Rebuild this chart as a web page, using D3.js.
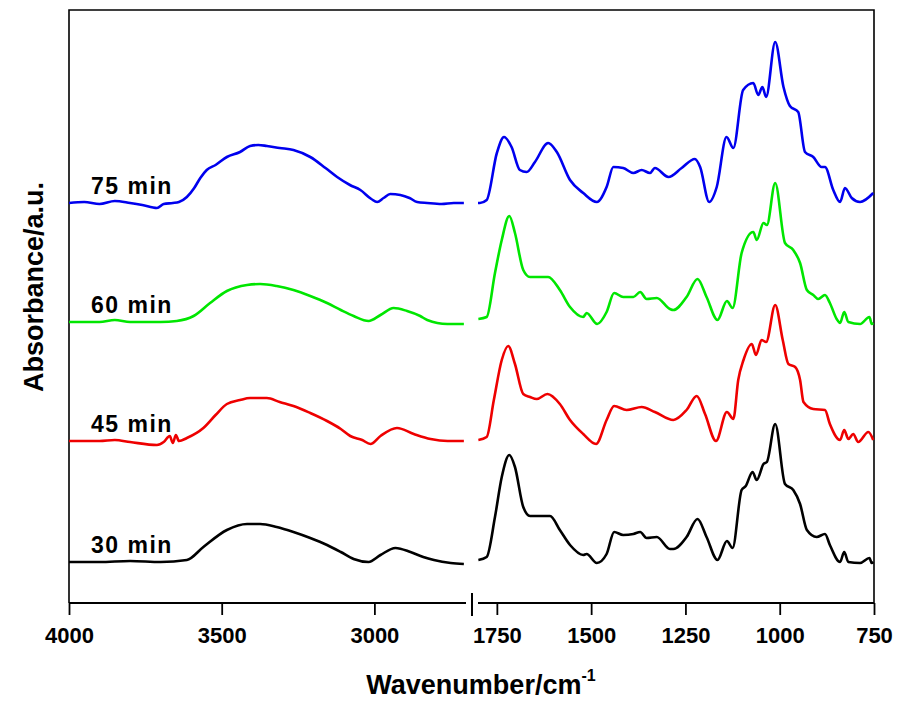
<!DOCTYPE html>
<html>
<head>
<meta charset="utf-8">
<script src="https://d3js.org/d3.v7.min.js"></script>
<style>
  body { margin: 0; background: #fff; }
  text { font-family: "Liberation Sans", Arial, sans-serif; font-weight: bold; fill: #000; }
</style>
</head>
<body>
<div id="chart-area"></div>
<script>
// FTIR spectra, broken wavenumber axis (4000-2700 | 1800-750)
var labels = ["30 min", "45 min", "60 min", "75 min"];
var colors = ["#000000", "#ee0000", "#00e600", "#0000ee"];
var offsets = [4.1, 16.2, 28.1, 40.0];

var leftMajor = [4000, 3500, 3000], leftMinor = [3750, 3250, 2750];
var rightMajor = [1750, 1500, 1250, 1000, 750], rightMinor = [1625, 1375, 1125, 875];

// [wavenumber, absorbance] pairs
var s30Left = [[4000,0],[3900,0],[3800,0.1],[3700,0],[3614,0.2],[3560,1.5],[3483,3.2],[3417,3.8],[3374,3.8],[3320,3.5],[3265,3.0],[3210,2.4],[3155,1.7],[3110,1.0],[3068,0.3],[3019,0],[2980,0.7],[2931,1.4],[2882,1.0],[2840,0.5],[2805,0.2],[2750,-0.1],[2707,-0.2]];
var s30Right = [[1799,0.2],[1777,0.5],[1755,4.5],[1737,8.5],[1717,10.7],[1702,9.5],[1680,5.5],[1662,4.6],[1609,4.6],[1583,3.2],[1556,1.7],[1521,0.7],[1512,0.8],[1485,-0.1],[1459,0.8],[1439,3.0],[1415,2.7],[1388,2.8],[1370,3.0],[1353,2.4],[1326,2.5],[1291,1.3],[1282,1.3],[1247,2.5],[1218,4.3],[1194,2.5],[1165,0.2],[1140,2.1],[1125,1.4],[1101,7.2],[1090,7.6],[1072,9.0],[1061,8.2],[1043,9.8],[1034,10.0],[1012,13.8],[986,7.8],[964,7.2],[946,5.8],[928,3.2],[902,2.5],[880,2.8],[867,1.7],[840,0.0],[829,1.0],[818,0.0],[787,-0.1],[762,0.4],[756,-0.1],[752,0.0]];

var s45Left = [[4000,0],[3900,0],[3850,0.1],[3800,-0.1],[3712,-0.4],[3690,-0.1],[3670,0.5],[3660,-0.2],[3650,0.6],[3640,0],[3614,0.3],[3560,1.3],[3520,2.6],[3483,3.7],[3440,4.1],[3407,4.3],[3352,4.3],[3310,3.9],[3265,3.5],[3210,2.8],[3155,2.0],[3110,1.2],[3079,0.5],[3040,0.1],[3013,-0.3],[2980,0.5],[2926,1.3],[2871,0.7],[2816,0.2],[2760,0],[2707,0]];
var s45Right = [[1799,0.1],[1777,0.4],[1758,4.1],[1737,8.1],[1720,9.5],[1702,7.7],[1680,4.7],[1662,4.4],[1644,4.2],[1616,4.7],[1583,3.7],[1556,2.1],[1521,0.7],[1487,-0.3],[1459,2.1],[1439,3.5],[1406,3.1],[1366,3.4],[1331,2.9],[1282,2.1],[1247,3.1],[1220,4.5],[1198,2.7],[1169,0.0],[1140,2.9],[1123,2.2],[1110,6.1],[1096,8.1],[1074,9.7],[1063,8.6],[1048,10.1],[1036,9.9],[1012,13.6],[992,10.1],[977,7.7],[959,7.4],[946,6.1],[937,3.9],[911,3.2],[880,3.1],[867,1.7],[840,0.1],[829,1.1],[818,0.2],[805,0.7],[792,-0.1],[765,0.9],[752,0.1]];

var s60Left = [[4000,0],[3900,0],[3850,0.2],[3800,0],[3700,0],[3647,0.1],[3592,0.6],[3538,1.9],[3483,3.1],[3417,3.7],[3374,3.8],[3320,3.6],[3265,3.2],[3210,2.6],[3155,1.9],[3110,1.2],[3068,0.6],[3019,0.1],[2980,0.7],[2937,1.4],[2893,1.1],[2850,0.6],[2827,0.2],[2761,-0.2],[2707,-0.2]];
var s60Right = [[1799,0.3],[1777,0.5],[1755,4.9],[1737,8.2],[1717,10.6],[1702,8.9],[1680,5.2],[1662,4.5],[1614,4.5],[1583,3.2],[1556,1.5],[1521,0.5],[1512,0.9],[1484,-0.2],[1459,1.0],[1439,2.9],[1415,2.5],[1388,2.5],[1370,3.0],[1353,2.3],[1326,2.4],[1291,1.3],[1282,1.2],[1247,2.5],[1218,4.3],[1194,2.5],[1165,0.2],[1140,2.1],[1125,1.4],[1101,6.9],[1070,9.0],[1061,8.2],[1043,9.9],[1034,9.7],[1012,13.9],[986,7.9],[964,7.2],[946,5.9],[928,3.2],[911,2.7],[898,2.3],[880,2.7],[867,1.9],[849,0.3],[840,-0.1],[829,1.0],[818,0.0],[787,-0.2],[762,0.5],[756,-0.2],[752,-0.1]];

var s75Left = [[4000,0],[3950,0.1],[3900,-0.1],[3850,0.2],[3800,0],[3760,-0.2],[3712,-0.5],[3690,-0.1],[3660,0],[3640,0.1],[3614,0.6],[3590,1.5],[3570,2.5],[3549,3.3],[3520,3.8],[3483,4.6],[3440,5.1],[3407,5.7],[3380,5.8],[3352,5.7],[3310,5.5],[3265,5.3],[3210,4.6],[3160,3.5],[3122,2.6],[3080,1.8],[3046,1.3],[3010,0.4],[2991,0.1],[2970,0.5],[2948,0.9],[2915,0.8],[2885,0.5],[2860,0.1],[2827,0],[2780,-0.1],[2740,0],[2707,0]];
var s75Right = [[1800,0],[1795,0],[1777,0.3],[1750,5.0],[1731,6.6],[1711,5.6],[1689,3.3],[1671,3.1],[1649,4.1],[1614,6.0],[1591,5.1],[1556,2.3],[1521,1.0],[1485,0.1],[1459,1.6],[1441,3.6],[1415,3.5],[1388,3.0],[1366,3.3],[1344,3.0],[1331,3.5],[1295,2.6],[1260,3.5],[1225,4.4],[1211,3.6],[1187,0.1],[1167,1.6],[1141,6.6],[1123,5.5],[1097,11.3],[1070,12.0],[1057,10.8],[1046,11.6],[1036,10.6],[1012,16.1],[990,11.6],[973,9.7],[951,9.1],[933,5.1],[911,4.6],[889,3.6],[880,3.6],[858,1.3],[840,0.1],[827,1.5],[809,0.5],[787,0.1],[752,1.0]];

var leftData = [s30Left, s45Left, s60Left, s75Left];
var rightData = [s30Right, s45Right, s60Right, s75Right];

var width = 897, height = 702;
var svg = d3.select("#chart-area")
  .append("svg")
    .attr("width", width)
    .attr("height", height);

// Scales: two x segments, one y
var xL = d3.scaleLinear().domain([4000, 2700]).range([69, 466]);
var xR = d3.scaleLinear().domain([1800, 750]).range([478, 874]);
var y = d3.scaleLinear().domain([0, 59.3]).range([603, 10]);

// Frame (top, left, right)
svg.append("path")
  .attr("d", "M69,603V10H874V603")
  .attr("fill", "none")
  .attr("stroke", "#000")
  .attr("stroke-width", 1.6);

function drawAxis(scale, major, minor) {
  var g = svg.append("g").attr("transform", "translate(0,603)");
  g.call(d3.axisBottom(scale).tickValues(minor).tickSize(7).tickSizeOuter(0).tickFormat(""));
  g.call(d3.axisBottom(scale).tickValues(major).tickSize(12).tickSizeOuter(0).tickPadding(12).tickFormat(d3.format("d")));
  g.selectAll(".domain").remove();
  g.selectAll("line").attr("stroke", "#000").attr("stroke-width", 1.8);
  g.selectAll("text")
    .attr("font-size", "22px")
    .attr("font-family", "'Liberation Sans', Arial, sans-serif")
    .attr("font-weight", "bold")
    .attr("fill", "#000");
  var r = scale.range();
  g.append("line")
    .attr("x1", r[0]).attr("x2", r[1])
    .attr("stroke", "#000").attr("stroke-width", 2);
}
drawAxis(xL, leftMajor, leftMinor);
drawAxis(xR, rightMajor, rightMinor);

// axis break mark
svg.append("line")
  .attr("x1", 472).attr("x2", 472)
  .attr("y1", 593).attr("y2", 616)
  .attr("stroke", "#000").attr("stroke-width", 2);

// Spectra
labels.forEach(function(lab, i) {
  [[leftData[i], xL], [rightData[i], xR]].forEach(function(seg) {
    var line = d3.line()
      .x(function(d) { return seg[1](d[0]); })
      .y(function(d) { return y(d[1] + offsets[i]); })
      .curve(d3.curveMonotoneX);
    svg.append("path")
      .attr("d", line(seg[0]))
      .attr("fill", "none")
      .attr("stroke", colors[i])
      .attr("stroke-width", 2.6)
      .attr("stroke-linejoin", "round");
  });
  svg.append("text")
    .attr("x", 91)
    .attr("y", y(offsets[i]) - 9)
    .attr("font-size", "23px")
    .attr("letter-spacing", "1.5px")
    .text(lab);
});

// Axis titles
var xt = svg.append("text")
  .attr("x", 481)
  .attr("y", 694)
  .attr("text-anchor", "middle")
  .attr("font-size", "27px");
xt.append("tspan").text("Wavenumber/cm");
xt.append("tspan").attr("dy", -13).attr("font-size", "16px").text("-1");

svg.append("text")
  .attr("transform", "translate(43,287) rotate(-90)")
  .attr("text-anchor", "middle")
  .attr("font-size", "27px")
  .text("Absorbance/a.u.");
</script>
</body>
</html>
